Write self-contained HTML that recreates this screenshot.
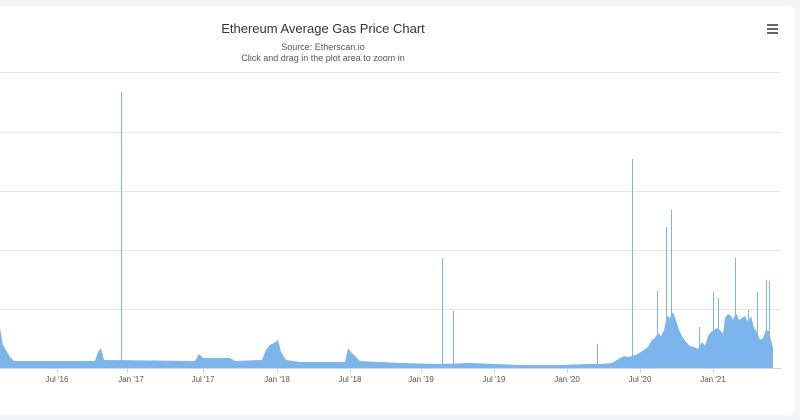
<!DOCTYPE html>
<html><head><meta charset="utf-8"><style>
body{margin:0;width:800px;height:420px;background:#f3f4f7;overflow:hidden;font-family:"Liberation Sans",sans-serif}
.card{position:absolute;left:-10px;top:6px;width:805px;height:409px;background:#fff;border-radius:6px}
</style></head><body>
<div class="card"></div>
<svg width="800" height="420" style="position:absolute;left:0;top:0">
<text x="323" y="33" text-anchor="middle" font-size="13" fill="#333">Ethereum Average Gas Price Chart</text>
<text x="323" y="50" text-anchor="middle" font-size="9" fill="#555">Source: Etherscan.io</text>
<text x="323" y="61" text-anchor="middle" font-size="9" fill="#555">Click and drag in the plot area to zoom in</text>
<g fill="#666"><rect x="767" y="24" width="11" height="2"/><rect x="767" y="28" width="11" height="2"/><rect x="767" y="32" width="11" height="2"/></g>
<g stroke="#e6e6e6" stroke-width="1">
<line x1="0" y1="72.5" x2="781" y2="72.5"/><line x1="0" y1="132.5" x2="781" y2="132.5"/><line x1="0" y1="191.5" x2="781" y2="191.5"/><line x1="0" y1="250.5" x2="781" y2="250.5"/><line x1="0" y1="309.5" x2="781" y2="309.5"/>
</g>
<g stroke="#7cb5ec" stroke-width="1">
<line x1="121.5" y1="92" x2="121.5" y2="368"/><line x1="442.5" y1="258" x2="442.5" y2="368"/><line x1="453.5" y1="311" x2="453.5" y2="368"/><line x1="597.5" y1="344" x2="597.5" y2="368"/><line x1="632.5" y1="159" x2="632.5" y2="368"/><line x1="666.5" y1="227" x2="666.5" y2="368"/><line x1="671.5" y1="210" x2="671.5" y2="368"/><line x1="735.5" y1="258" x2="735.5" y2="368"/><line x1="766.5" y1="280" x2="766.5" y2="368"/><line x1="769.5" y1="281" x2="769.5" y2="368"/><line x1="657.5" y1="291" x2="657.5" y2="368"/><line x1="713.5" y1="292" x2="713.5" y2="368"/><line x1="718.5" y1="298" x2="718.5" y2="368"/><line x1="748.5" y1="310" x2="748.5" y2="368"/><line x1="757.5" y1="292" x2="757.5" y2="368"/><line x1="699.5" y1="327" x2="699.5" y2="368"/>
</g>
<polygon fill="#7cb5ec" points="0,368 0,328 3,345 6,350 10,357 14,361 95,361 98,352 101,348 104,360 195,361 199,354 203,358 230,358 235,361 262,360 266,350 270,345 274,343 278,340 281,352 286,360 300,362 345,362 348,348 351,352 355,356 360,361 400,363 440,364 470,363 520,365 560,365 590,364 600,364 612,363 620,358 624,356 628,357 636,355 644,350 648,347 652,340 655,338 658,333 661,336 664,330 667,316 670,318 673,312 676,320 679,330 682,336 686,342 690,346 694,347 698,349 702,342 705,346 708,336 711,332 714,330 717,328 720,330 723,334 725,318 728,314 731,316 733,320 736,313 739,320 742,318 745,316 748,322 751,316 754,328 757,332 760,340 763,338 766,330 769,331 771,340 773,348 773,368"/>
<line x1="0" y1="368.5" x2="781" y2="368.5" stroke="#ccd6eb"/>
<g stroke="#ccd6eb"><line x1="57.5" y1="368" x2="57.5" y2="373"/><line x1="127.5" y1="368" x2="127.5" y2="373"/><line x1="203.5" y1="368" x2="203.5" y2="373"/><line x1="277.5" y1="368" x2="277.5" y2="373"/><line x1="350.5" y1="368" x2="350.5" y2="373"/><line x1="421.5" y1="368" x2="421.5" y2="373"/><line x1="494.5" y1="368" x2="494.5" y2="373"/><line x1="567.5" y1="368" x2="567.5" y2="373"/><line x1="640.5" y1="368" x2="640.5" y2="373"/><line x1="713.5" y1="368" x2="713.5" y2="373"/></g>
<g font-size="8" fill="#555" text-anchor="middle">
<text x="57" y="382">Jul '16</text><text x="131" y="382">Jan '17</text><text x="203" y="382">Jul '17</text><text x="277" y="382">Jan '18</text><text x="350" y="382">Jul '18</text><text x="421" y="382">Jan '19</text><text x="494" y="382">Jul '19</text><text x="567" y="382">Jan '20</text><text x="640" y="382">Jul '20</text><text x="713" y="382">Jan '21</text>
</g>
</svg>
</body></html>
